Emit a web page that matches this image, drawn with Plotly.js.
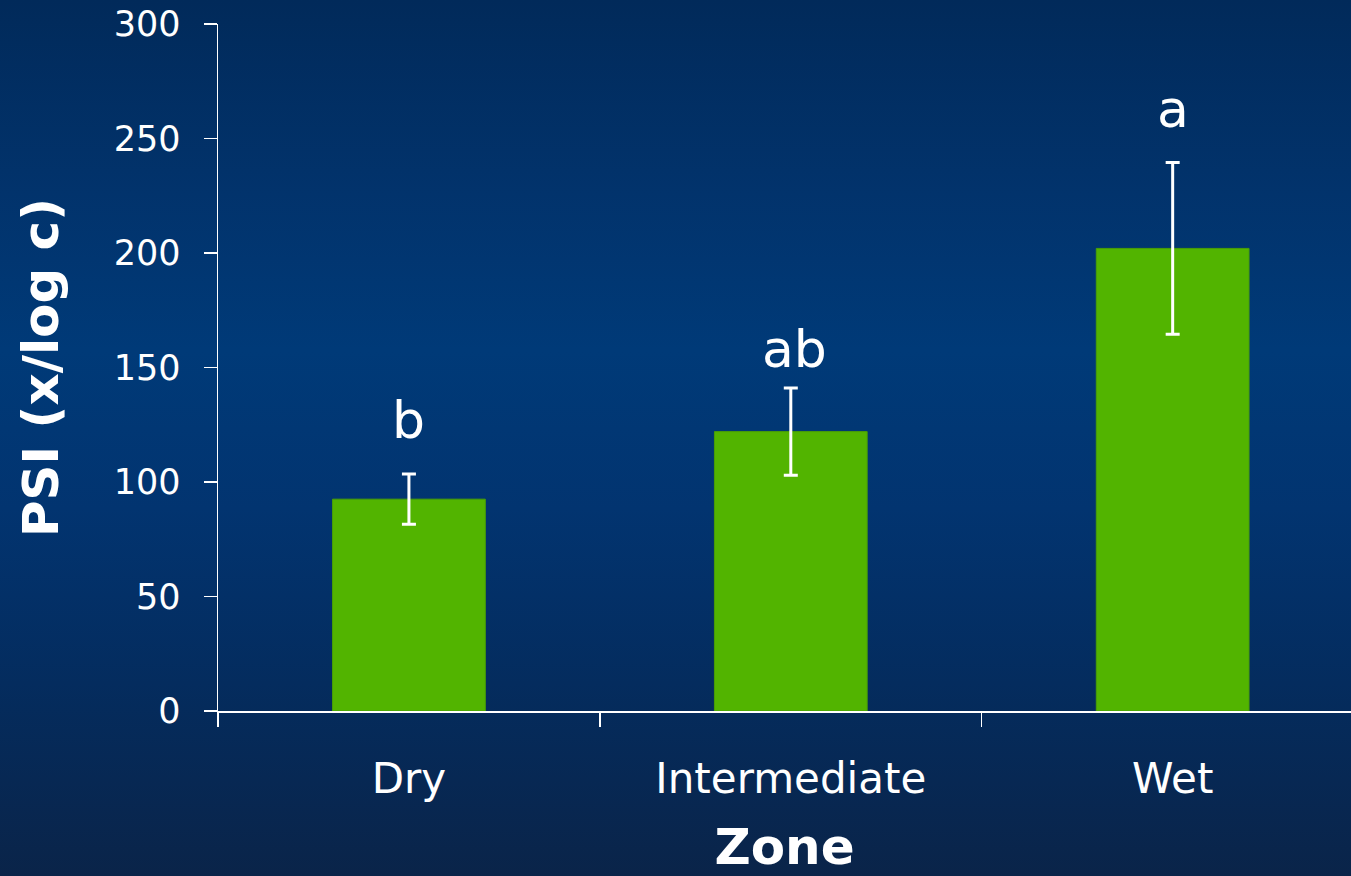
<!DOCTYPE html>
<html>
<head>
<meta charset="utf-8">
<script src="https://cdn.plot.ly/plotly-3.0.1.min.js"></script>
<style>
  html, body { margin: 0; padding: 0; }
  body { width: 1351px; height: 876px; overflow: hidden;
    background: linear-gradient(to bottom, #012a5a 0%, #02336c 22%, #003a78 40%, #023470 58%, #042c5e 78%, #0a2449 100%); }
  #chart { width: 1351px; height: 876px; }
</style>
</head>
<body>
<div id="chart"></div>
<script>
const zones = ["Dry", "Intermediate", "Wet"];
const psiMean = [92.5, 122, 202];
const psiErr = [11, 19, 37.5];
const groupLetters = ["b", "ab", "a"];
const letterY = [127, 158, 263];
const yTicks = [0, 50, 100, 150, 200, 250, 300];

const font = "DejaVu Sans, Verdana, sans-serif";

const trace = {
  type: "bar",
  x: zones,
  y: psiMean,
  width: 0.4,
  marker: { color: "#52b400", line: { color: "#4a9e06", width: 1 } },
  error_y: { type: "data", array: psiErr, visible: true, color: "#ffffff", thickness: 3, width: 7 },
  hoverinfo: "x+y"
};

const annotations = zones.map((z, i) => ({
  x: z, y: letterY[i], xref: "x", yref: "y",
  text: groupLetters[i], showarrow: false,
  xanchor: "center", yanchor: "middle",
  xshift: groupLetters[i] === "ab" ? 4 : 0,
  font: { family: font, size: 52, color: "#ffffff" }
}));

const layout = {
  width: 1351, height: 876,
  margin: { l: 218, r: 0, t: 24, b: 165, pad: 0 },
  paper_bgcolor: "rgba(0,0,0,0)",
  plot_bgcolor: "rgba(0,0,0,0)",
  showlegend: false,
  font: { family: font, color: "#ffffff" },
  xaxis: {
    type: "category",
    range: [-0.5, 2.467],
    tickson: "boundaries",
    ticks: "outside", ticklen: 14, tickcolor: "#ffffff", tickwidth: 1.5,
    showline: true, linecolor: "#ffffff", linewidth: 1.5,
    showgrid: false, zeroline: false,
    tickfont: { family: font, size: 42, color: "#ffffff" },
    ticklabelstandoff: 30,
    title: { text: "Zone", font: { family: font, size: 50, color: "#ffffff", weight: "bold" }, standoff: 45 }
  },
  yaxis: {
    range: [0, 300],
    tickvals: yTicks,
    ticks: "outside", ticklen: 13, tickcolor: "#ffffff", tickwidth: 1.5,
    showline: true, linecolor: "#ffffff", linewidth: 1.5,
    showgrid: false, zeroline: false,
    tickfont: { family: font, size: 35, color: "#ffffff" },
    ticklabelstandoff: 16,
    title: { text: "PSI (x/log c)", font: { family: font, size: 50, color: "#ffffff", weight: "bold" }, standoff: 39 }
  },
  annotations: annotations
};

Plotly.newPlot("chart", [trace], layout, { displayModeBar: false, staticPlot: true });
</script>
</body>
</html>
